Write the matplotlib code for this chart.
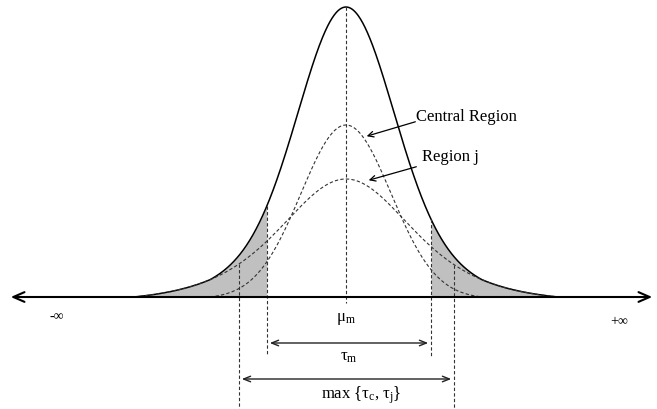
import numpy as np
import matplotlib.pyplot as plt

# curve parameters (units: px-like, baseline at y=0)
mu = 346
central_amp = 172
central_sigma = 45
central_half = 136
regionj_amp = 118
regionj_scale = 70
regionj_df = 4
regionj_half = 212

tau_m = [267, 431]
tau_max = [239, 454]


def central(x):
    g = np.exp(-(x - mu) ** 2 / (2 * central_sigma ** 2))
    c = np.exp(-central_half ** 2 / (2 * central_sigma ** 2))
    y = central_amp * (g - c) / (1 - c)
    return np.where(np.abs(x - mu) <= central_half, y, 0)


def region_j(x):
    k = -(regionj_df + 1) / 2
    g = (1 + ((x - mu) / regionj_scale) ** 2 / regionj_df) ** k
    c = (1 + (regionj_half / regionj_scale) ** 2 / regionj_df) ** k
    y = regionj_amp * (g - c) / (1 - c)
    return np.where(np.abs(x - mu) <= regionj_half, y, 0)


def total(x):
    return central(x) + region_j(x)


plt.rcParams['font.family'] = ['Liberation Serif', 'DejaVu Serif']

fig = plt.figure(figsize=(6.57, 4.10), dpi=100)
ax = fig.add_axes([0, 0, 1, 1])
ax.set_xlim(0, 657)
ax.set_ylim(-112, 298)
ax.axis('off')

dash = dict(color='#333333', lw=0.8, ls=(0, (3, 2)))

x = np.linspace(mu - regionj_half, mu + regionj_half, 800)
xc = np.linspace(mu - central_half, mu + central_half, 600)

# shaded tails
left = x[x <= tau_m[0]]
right = x[x >= tau_m[1]]
ax.fill_between(left, 0, total(left), color='#c0c0c0', lw=0)
ax.fill_between(right, 0, total(right), color='#c0c0c0', lw=0)

ax.plot(x, total(x), color='black', lw=1.1)
ax.plot(xc, central(xc), **dash)
ax.plot(x, region_j(x), **dash)

# vertical guides
ax.plot([mu, mu], [total(np.array(mu)), -6], **dash)
for xv in tau_m:
    ax.plot([xv, xv], [total(np.array(xv)), -59], **dash)
for xv in tau_max:
    ax.plot([xv, xv], [region_j(np.array(xv)), -112], **dash)

# axis with arrows
ax.annotate('', xy=(8, 0), xytext=(655, 0),
            arrowprops=dict(arrowstyle='<->,head_length=0.8,head_width=0.35', color='black', lw=1.5))

ax.annotate('', xy=(tau_m[0], -46), xytext=(tau_m[1], -46),
            arrowprops=dict(arrowstyle='<->,head_length=0.5,head_width=0.2', color='#222222', lw=1.0))
ax.annotate('', xy=(tau_max[0], -82), xytext=(tau_max[1], -82),
            arrowprops=dict(arrowstyle='<->,head_length=0.5,head_width=0.2', color='#222222', lw=1.0))

fs = 12
ax.text(57, -19, '-∞', ha='center', va='center', fontsize=fs - 2)
ax.text(619, -24, '+∞', ha='center', va='center', fontsize=fs - 2)
ax.text(mu, -21, r'$\mathregular{\mu_m}$', ha='center', va='center', fontsize=fs)
ax.text(mu + 3, -59, r'$\mathregular{\tau_m}$', ha='center', va='center', fontsize=fs)
ax.text(mu + 15, -97, r'max {$\mathregular{\tau_c}$, $\mathregular{\tau_j}$}',
        ha='center', va='center', fontsize=fs)

ax.text(416, 181, 'Central Region', ha='left', va='center', fontsize=fs)
ax.annotate('', xy=(364, 160), xytext=(418, 176),
            arrowprops=dict(arrowstyle='->,head_length=0.4,head_width=0.2', color='black', lw=0.9))
ax.text(422, 141, 'Region j', ha='left', va='center', fontsize=fs)
ax.annotate('', xy=(366, 116), xytext=(419, 131),
            arrowprops=dict(arrowstyle='->,head_length=0.4,head_width=0.2', color='black', lw=0.9))

fig.savefig('out.png', dpi=100)
